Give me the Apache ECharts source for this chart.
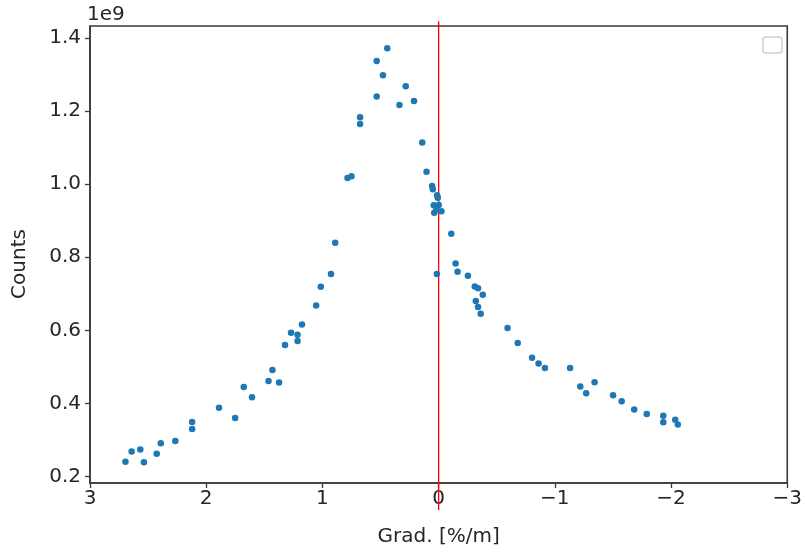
<!DOCTYPE html>
<html>
<head>
<meta charset="utf-8">
<script src="https://cdn.jsdelivr.net/npm/echarts@6/dist/echarts.min.js"></script>
<style>html,body{margin:0;padding:0;background:#fff;}#c{width:805px;height:552px;}</style>
</head>
<body>
<div id="c"></div>
<script>
// Gradient values [%/m]
const gradX = [2.695,2.642,2.567,2.536,2.426,2.391,2.266,2.121,2.121,1.890,1.751,1.677,1.606,1.464,1.430,1.373,1.322,1.270,1.214,1.214,1.176,1.054,1.014,0.926,0.890,0.784,0.750,0.676,0.676,0.533,0.533,0.479,0.442,0.283,0.337,0.212,0.141,0.104,0.056,0.050,0.013,0.007,0.042,-0.001,0.038,0.019,-0.024,0.015,-0.109,-0.146,-0.163,-0.252,-0.311,-0.339,-0.380,-0.320,-0.339,-0.362,-0.593,-0.681,-0.804,-0.860,-0.915,-1.131,-1.219,-1.270,-1.342,-1.501,-1.575,-1.683,-1.791,-1.933,-1.933,-2.036,-2.058];
// Counts in units of 1e9
const countsY = [0.240,0.268,0.274,0.239,0.262,0.291,0.297,0.349,0.330,0.388,0.360,0.445,0.417,0.461,0.491,0.457,0.560,0.593,0.588,0.571,0.616,0.668,0.719,0.754,0.840,1.017,1.022,1.183,1.165,1.337,1.240,1.298,1.372,1.268,1.217,1.228,1.114,1.034,0.995,0.986,0.970,0.963,0.942,0.943,0.922,0.931,0.926,0.754,0.864,0.783,0.760,0.749,0.720,0.715,0.697,0.680,0.664,0.645,0.606,0.565,0.525,0.509,0.497,0.497,0.446,0.428,0.458,0.422,0.406,0.383,0.371,0.366,0.348,0.355,0.342];
// Vertical reference line at zero gradient
const refLineX = [0, 0];
const refLineY = [0.108, 1.446];
// Tick labels
const xTicks = [3, 2, 1, 0, -1, -2, -3];
const yTicks = [0.2, 0.4, 0.6, 0.8, 1.0, 1.2, 1.4];

const points = gradX.map((x, i) => [x, countsY[i]]);
const refLine = refLineX.map((x, i) => [x, refLineY[i]]);

const chart = echarts.init(document.getElementById('c'), null, {renderer: 'canvas'});
const txt = '#262626';
const font = 'DejaVu Sans';
const fs = 20;
chart.setOption({
  animation: false,
  backgroundColor: '#fff',
  grid: {left: 90, right: 13, top: 26, bottom: 69, show: true, borderColor: '#3a3a3a', borderWidth: 1.6, backgroundColor: 'transparent'},
  xAxis: {
    type: 'value', min: -3, max: 3, interval: 1, inverse: true,
    name: 'Grad. [%/m]', nameLocation: 'middle', nameGap: 44,
    nameTextStyle: {color: txt, fontFamily: font, fontSize: fs},
    axisLine: {show: true, onZero: false, lineStyle: {color: '#3a3a3a', width: 1.6}},
    axisTick: {show: true, length: 5, lineStyle: {color: '#3a3a3a', width: 1.3}},
    axisLabel: {color: txt, fontFamily: font, fontSize: fs, margin: 6,
      formatter: v => v < 0 ? '\u2212' + (-v) : String(v)},
    splitLine: {show: false}
  },
  yAxis: {
    type: 'value', min: 0.182, max: 1.433,
    name: '1e9', nameLocation: 'end', nameGap: 1,
    nameTextStyle: {color: txt, fontFamily: font, fontSize: fs, align: 'left', verticalAlign: 'bottom', padding: [0, 0, 0, -3]},
    axisLine: {show: true, onZero: false, lineStyle: {color: '#3a3a3a', width: 1.6}},
    axisTick: {show: true, length: 5, customValues: yTicks, lineStyle: {color: '#3a3a3a', width: 1.3}},
    axisLabel: {color: txt, fontFamily: font, fontSize: fs, margin: 9, customValues: yTicks,
      formatter: v => Number(v).toFixed(1)},
    splitLine: {show: false}
  },
  graphic: [
    {type: 'text', x: 20, y: 264, rotation: Math.PI / 2, style: {text: 'Counts', fill: txt, font: fs + 'px "DejaVu Sans"', textAlign: 'center', textVerticalAlign: 'middle'}},
    {type: 'rect', shape: {x: 763, y: 37, width: 19, height: 16, r: 3}, style: {fill: '#fff', stroke: '#cfcfcf', lineWidth: 1.5}}
  ],
  series: [
    {type: 'line', data: refLine, clip: false, symbol: 'none', lineStyle: {color: '#ff0000', width: 1.3}, z: 3, silent: true},
    {type: 'scatter', data: points, symbolSize: 6.5, itemStyle: {color: '#1f77b4', opacity: 1}, z: 4}
  ]
});
</script>
</body>
</html>
